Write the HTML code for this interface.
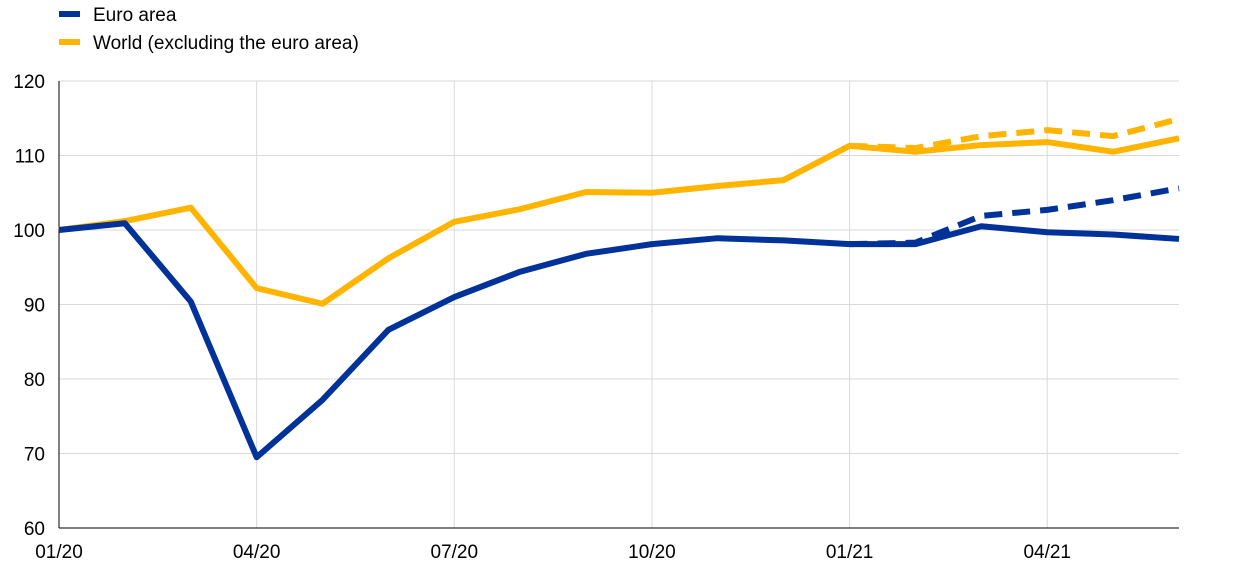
<!DOCTYPE html>
<html><head><meta charset="utf-8">
<style>
body{margin:0;background:#fff;font-family:"Liberation Sans",Arial,sans-serif;}
svg text{font-family:"Liberation Sans",Arial,sans-serif;fill:#000;}
</style></head><body>
<svg width="1240" height="573" viewBox="0 0 1240 573">
<g id="grid"></g><g id="axes"></g><g id="series"></g>
<g>
<g><line x1="59" y1="14" x2="80" y2="14" stroke="#003299" stroke-width="6"/><text x="93" y="21" font-size="19">Euro area</text></g>
<g><line x1="59" y1="42" x2="80" y2="42" stroke="#FFB400" stroke-width="6"/><text x="93" y="49" font-size="19">World (excluding the euro area)</text></g>
</g>
</svg>
<script>
const months=18;
const xTickLabels=["01/20","04/20","07/20","10/20","01/21","04/21"];
const xTickIdx=[0,3,6,9,12,15];
const yTicks=[60,70,80,90,100,110,120];
const euroArea=[100,100.9,90.4,69.5,77.2,86.6,91,94.4,96.8,98.1,98.9,98.6,98.1,98.1,100.5,99.7,99.4,98.8];
const euroAreaDashed=[null,null,null,null,null,null,null,null,null,null,null,null,98.1,98.3,101.9,102.7,104,105.6];
const world=[100,101.2,103,92.2,90.1,96.2,101.1,102.8,105.1,105,105.9,106.7,111.3,110.5,111.4,111.8,110.5,112.3];
const worldDashed=[null,null,null,null,null,null,null,null,null,null,null,null,111.3,111.0,112.6,113.4,112.6,114.9];
const X0=59,X1=1179,Y0=528,Y1=81;
const x=i=>X0+(X1-X0)*i/(months-1);
const y=v=>Y0-(v-60)/(120-60)*(Y0-Y1);
const NS="http://www.w3.org/2000/svg";
function mk(tag,attrs,parent){const e=document.createElementNS(NS,tag);for(const k in attrs)e.setAttribute(k,attrs[k]);document.getElementById(parent).appendChild(e);return e;}
yTicks.forEach(v=>{
  const l=mk('line',{x1:X0,x2:X1,y1:y(v),y2:y(v),stroke:'#d9d9d9','stroke-width':1},'grid');
  
  
  const t=mk('text',{x:X0-14,y:y(v)+7,'text-anchor':'end','font-size':19},'axes');
  t.textContent=v;
  
  
});
xTickIdx.forEach((i,k)=>{
  if(i>0){const l=mk('line',{x1:x(i),x2:x(i),y1:Y1,y2:Y0,stroke:'#d9d9d9','stroke-width':1},'grid');
  
  }
  const t=mk('text',{x:x(i),y:558,'text-anchor':'middle','font-size':19},'axes');
  t.textContent=xTickLabels[k];
  
  
});
const ax=mk('line',{x1:X0,x2:X1,y1:Y0,y2:Y0,stroke:'#000','stroke-width':1},'axes');


const ay=mk('line',{x1:X0,x2:X0,y1:Y1,y2:Y0,stroke:'#000','stroke-width':1},'axes');


function pts(arr){return arr.map((v,i)=>v==null?null:x(i)+','+y(v)).filter(p=>p).join(' ');}
function draw(arr,color,dash,name){
  const p=mk('polyline',{points:pts(arr),fill:'none',stroke:color,'stroke-width':6,'stroke-linejoin':'round'},'series');
  if(dash)p.setAttribute('stroke-dasharray','18,10');
  
  
}
draw(worldDashed,'#FFB400',true,'world-dashed-line');
draw(euroAreaDashed,'#003299',true,'euro-area-dashed-line');
draw(world,'#FFB400',false,'world-line');
draw(euroArea,'#003299',false,'euro-area-line');
</script>
</body></html>
